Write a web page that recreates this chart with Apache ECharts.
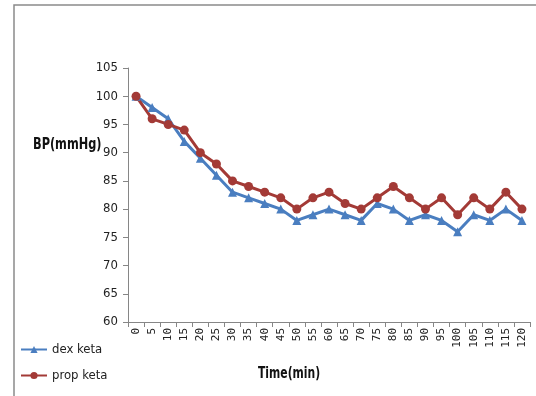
<!DOCTYPE html>
<html>
<head>
<meta charset="utf-8">
<script src="https://cdn.jsdelivr.net/npm/echarts@6/dist/echarts.min.js"></script>
<style>
  html, body { margin: 0; padding: 0; background: #fff; }
  #container { width: 536px; height: 396px; }
</style>
</head>
<body>
<div id="container"></div>
<script>
var times = ["0","5","10","15","20","25","30","35","40","45","50","55","60","65","70","75","80","85","90","95","100","105","110","115","120"];
var dexKeta = [100, 98, 96, 92, 89, 86, 83, 82, 81, 80, 78, 79, 80, 79, 78, 81, 80, 78, 79, 78, 76, 79, 78, 80, 78];
var propKeta = [100, 96, 95, 94, 90, 88, 85, 84, 83, 82, 80, 82, 83, 81, 80, 82, 84, 82, 80, 82, 79, 82, 80, 83, 80];

var fontFam = "'DejaVu Sans Condensed', Roboto, sans-serif";

var myChart = echarts.init(document.getElementById("container"));

var option = {
    animation: false,
    grid: {
        left: 128,
        right: 6,
        top: 68,
        bottom: 74
    },
    legend: {
        orient: 'vertical',
        left: 15,
        top: 338,
        itemWidth: 26,
        itemHeight: 9,
        itemGap: 13,
        textStyle: { fontFamily: fontFam, fontSize: 13, color: '#222' },
        data: ['dex keta', 'prop keta']
    },
    graphic: [
        {
            type: 'rect',
            shape: { x: 14, y: 5, width: 540, height: 400 },
            style: { fill: 'none', stroke: '#8a8a8a', lineWidth: 1.5 },
            silent: true
        },
        {
            type: 'text',
            x: 33,
            y: 138,
            scaleX: 0.84,
            style: { text: 'BP(mmHg)', font: "bold 15px " + fontFam, fill: '#111' }
        },
        {
            type: 'text',
            x: 258,
            y: 367,
            scaleX: 0.8,
            style: { text: 'Time(min)', font: "bold 15px " + fontFam, fill: '#111' }
        }
    ],
    xAxis: {
        type: 'category',
        boundaryGap: true,
        data: times,
        axisLine: { lineStyle: { color: '#868686' } },
        axisTick: { show: true, length: 5, lineStyle: { color: '#868686' } },
        axisLabel: {
            rotate: 90,
            interval: 0,
            margin: 6,
            fontFamily: 'DejaVu Sans Mono',
            fontSize: 11,
            color: '#222'
        }
    },
    yAxis: {
        type: 'value',
        min: 60,
        max: 105,
        interval: 5,
        splitLine: { show: false },
        axisLine: { show: true, lineStyle: { color: '#868686' } },
        axisTick: { show: true, length: 5, lineStyle: { color: '#868686' } },
        axisLabel: { fontFamily: fontFam, fontSize: 13, color: '#222', margin: 10 }
    },
    series: [
        {
            name: 'dex keta',
            type: 'line',
            data: dexKeta,
            symbol: 'triangle',
            symbolSize: 9,
            color: '#4a7ec0',
            lineStyle: { width: 3 },
            itemStyle: { color: '#4a7ec0' }
        },
        {
            name: 'prop keta',
            type: 'line',
            data: propKeta,
            symbol: 'circle',
            symbolSize: 9,
            color: '#a33a36',
            lineStyle: { width: 3 },
            itemStyle: { color: '#a33a36' }
        }
    ]
};

myChart.setOption(option, true);
</script>
</body>
</html>
